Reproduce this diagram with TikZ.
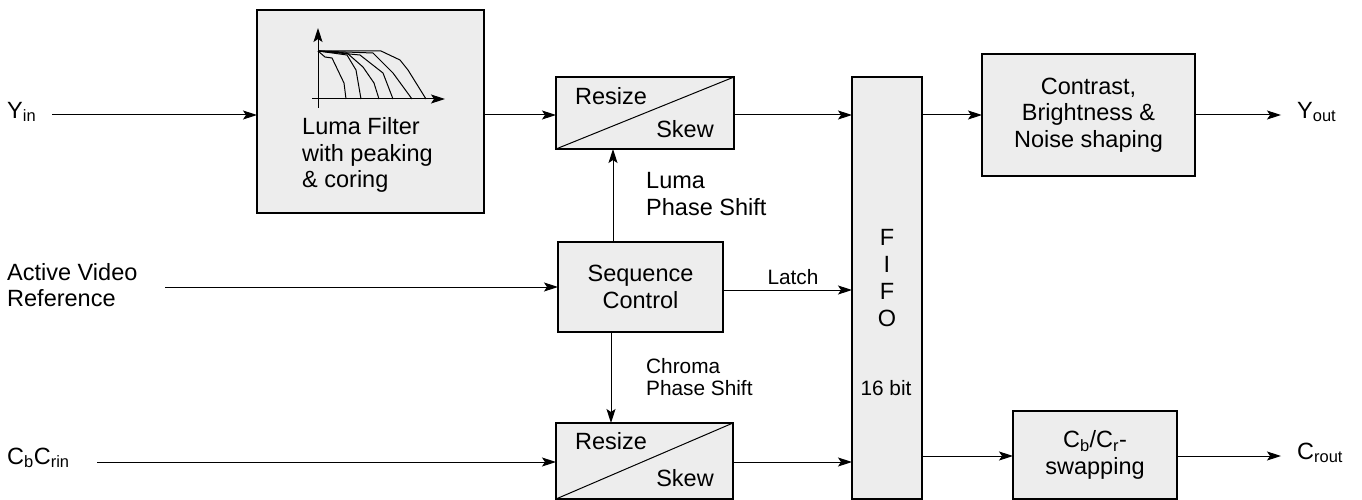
\documentclass[tikz,border=0pt]{standalone}
\usepackage{fontspec}
\setmainfont{Liberation Sans}
\usetikzlibrary{arrows.meta, positioning}

\begin{document}
\begin{tikzpicture}[
  x=1pt, y=-1pt, node distance=0pt, font=\fontsize{23.5}{26.7}\selectfont,
  block/.style={rectangle, draw=black, line width=1.8pt, fill=black!7, inner sep=0pt, outer sep=0pt, text centered, align=center},
  textlabel/.style={inner sep=0pt, align=left},
  smalllabel/.style={inner sep=0pt, align=left, font=\fontsize{20.8}{22.5}\selectfont},
  thinline/.style={line width=1pt},
  arrow/.style={thinline,-{Stealth[length=14pt,width=9pt,inset=3pt]}}]

  \useasboundingbox (0,0) rectangle (1362,500);

  % Blocks
  \node (luma) [block, minimum width=227pt, minimum height=203pt] at (370.5,111.5) {};
  \node (resizey) [block, minimum width=178pt, minimum height=72pt, right of=luma, xshift=274.5pt, yshift=-1.5pt] {};
  \node (seq) [block, minimum width=165pt, minimum height=90pt, below of=resizey, xshift=-4.5pt, yshift=-174pt] {Sequence\\Control};
  \node (resizec) [block, minimum width=177pt, minimum height=76pt, below of=resizey, xshift=-0.5pt, yshift=-348pt] {};
  \node (fifo) [block, minimum width=70pt, minimum height=422pt, right of=resizey, xshift=242pt, yshift=-175pt] {};
  \node (contrast) [block, minimum width=213pt, minimum height=122pt, right of=fifo, xshift=201.5pt, yshift=173pt] {Contrast,\\Brightness \&\\Noise shaping};
  \node (swap) [block, minimum width=164pt, minimum height=88pt, below of=contrast, xshift=6.5pt, yshift=-340pt] {C\textsubscript{b}/C\textsubscript{r}-\\swapping};

  % Diagonals
  \draw [thinline] (resizey.south west) -- (resizey.north east);
  \draw [thinline] (resizec.south west) -- (resizec.north east);
  \node (resizeytop) [textlabel] at (611,96) {Resize};
  \node (resizeybot) [textlabel] at (685,129) {Skew};
  \node (resizectop) [textlabel] at (611,441) {Resize};
  \node (resizecbot) [textlabel] at (685,478) {Skew};

  % Filter curves
  \draw [arrow] (318,108) -- (318,28);
  \draw [arrow] (312,99) -- (445,99);
  \draw [thinline] (318,51) -- (325,57) -- (332,58) -- (344,83) -- (346,99);
  \draw [thinline] (318,51) -- (347,55) -- (356,70) -- (361,99);
  \draw [thinline] (318,51) -- (347,53) -- (363,67) -- (374,83) -- (379,99);
  \draw [thinline] (318,51) -- (360,55) -- (383,73) -- (393,99);
  \draw [thinline] (318,51) -- (373,53) -- (393,73) -- (412,99);
  \draw [thinline] (318,51) -- (381,51) -- (400,60) -- (408,70) -- (426,99);

  % Labels
  \node (filtertext) [textlabel, anchor=west] at (302,155) {Luma Filter\\with peaking\\\& coring};
  \node (fifotext) [textlabel, align=center] at (887,278) {F\\I\\F\\O};
  \node (fifobits) [smalllabel] at (886,388) {16 bit};
  \node (lumashift) [textlabel, anchor=west] at (646,194) {Luma\\Phase Shift};
  \node (chromashift) [smalllabel, anchor=west] at (646,377) {Chroma\\Phase Shift};
  \node (latch) [smalllabel] at (793,277) {Latch};
  \node (yin) [textlabel, anchor=west] at (7,112) {Y\textsubscript{in}};
  \node (active) [textlabel, anchor=west] at (7,285) {Active Video\\Reference};
  \node (cbcrin) [textlabel, anchor=west] at (7,458) {C\textsubscript{b}C\textsubscript{rin}};
  \node (yout) [textlabel, anchor=west] at (1297,112) {Y\textsubscript{out}};
  \node (crout) [textlabel, anchor=west] at (1297,453) {C\textsubscript{rout}};

  % Free ends
  \coordinate (yinstart) at (52,115);
  \coordinate (activestart) at (165,287);
  \coordinate (cinstart) at (97,462);
  \coordinate (youtend) at (1281,115);
  \coordinate (croutend) at (1281,456);
  \coordinate (lumaline) at (613,0);
  \coordinate (chromaline) at (611,0);
  \coordinate (latchline) at (0,290);

  % Arrows
  \draw [arrow] (yinstart) -- (yinstart -| luma.west);
  \draw [arrow] (luma.east |- yinstart) -- (resizey.west |- yinstart);
  \draw [arrow] (resizey.east |- yinstart) -- (fifo.west |- yinstart);
  \draw [arrow] (fifo.east |- yinstart) -- (contrast.west |- yinstart);
  \draw [arrow] (contrast.east |- yinstart) -- (youtend);

  \draw [arrow] (seq.north -| lumaline) -- (resizey.south -| lumaline);
  \draw [arrow] (seq.south -| chromaline) -- (resizec.north -| chromaline);
  \draw [arrow] (activestart) -- (activestart -| seq.west);
  \draw [arrow] (seq.east |- latchline) -- (fifo.west |- latchline);

  \draw [arrow] (cinstart) -- (cinstart -| resizec.west);
  \draw [arrow] (resizec.east |- cinstart) -- (fifo.west |- cinstart);
  \draw [arrow] (fifo.east |- croutend) -- (swap.west |- croutend);
  \draw [arrow] (swap.east |- croutend) -- (croutend);
\end{tikzpicture}
\end{document}
